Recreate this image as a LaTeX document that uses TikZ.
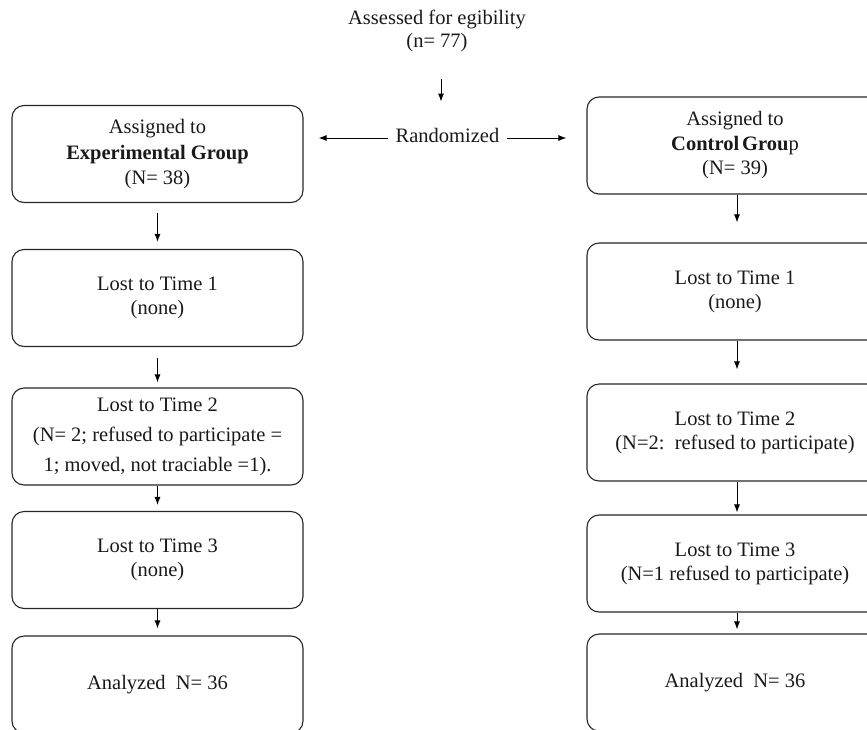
\documentclass[tikz,border=0pt]{standalone}
\usepackage{fontspec}
\setmainfont{Liberation Serif}
\usetikzlibrary{arrows.meta}
\begin{document}
\begin{tikzpicture}[x=1pt,y=-1pt,
    txt/.style={inner sep=0pt,align=center,text=black!90,font=\fontsize{20.5}{23}\selectfont},
    box/.style={txt,draw=black!85,line width=1.1pt,rounded corners=12pt,minimum height=97pt,
      font=\fontsize{20.5}{24}\selectfont},
    lbox/.style={box,minimum width=291pt},
    rbox/.style={box,minimum width=296pt},
    arr/.style={-{Latex[length=8pt,width=6pt]},line width=1pt,black}]
  \useasboundingbox (0,0) rectangle (867,729);
  \clip (0,0) rectangle (867,729);
  % top
  \node[txt] (assess) at (437,31) {Assessed for egibility\\(n= 77)};
  \node[txt] (rand) at (447.5,135) {Randomized};
  % left column
  \node[lbox] (l1) at (157.5,154) {Assigned to\\[2pt]\textbf{Experimental Group}\\[1pt](N= 38)};
  \node[lbox] (l2) at (157.5,298) {Lost to Time 1\\(none)};
  \node[lbox] (l3) at (157.5,436.5) {Lost to Time 2\\[6pt](N= 2; refused to participate =\\[6pt]1; moved, not traciable =1).};
  \node[lbox] (l4) at (157.5,560) {Lost to Time 3\\(none)};
  \node[lbox] (l5) at (157.5,684.5) {Analyzed\ \ N= 36};
  % right column
  \node[rbox] (r1) at (735,145.5) {Assigned to\\[1pt]\textbf{Control\hspace{3pt}Grou}p\\(N= 39)};
  \node[rbox] (r2) at (735,291.5) {Lost to Time 1\\(none)};
  \node[rbox] (r3) at (735,432.5) {Lost to Time 2\\(N=2:\ \ refused to participate)};
  \node[rbox] (r4) at (735,563.5) {Lost to Time 3\\(N=1 refused to participate)};
  \node[rbox] (r5) at (735,682.5) {Analyzed\ \ N= 36};
  % arrows
  \draw[arr,shorten <=27pt,shorten >=26pt] ([xshift=4pt]assess.south) -- ([xshift=4pt]assess.south |- rand.north);
  \draw[arr,shorten <=7pt,shorten >=15pt] ([yshift=-3pt]rand.west) -- ([yshift=-3pt]rand.west -| l1.east);
  \draw[arr,shorten <=7pt,shorten >=20pt] ([yshift=-3pt]rand.east) -- ([yshift=-3pt]rand.east -| r1.west);
  \draw[arr,shorten <=10pt,shorten >=7pt] (l1.south) -- (l2.north);
  \draw[arr,shorten <=11pt,shorten >=5pt] (l2.south) -- (l3.north);
  \draw[arr,shorten >=6pt] (l3.south) -- (l4.north);
  \draw[arr,shorten >=7pt] (l4.south) -- (l5.north);
  \draw[arr,shorten >=20pt] ([xshift=2pt]r1.south) -- ([xshift=2pt]r2.north);
  \draw[arr,shorten >=14pt] ([xshift=2pt]r2.south) -- ([xshift=2pt]r3.north);
  \draw[arr,shorten >=2pt] ([xshift=2pt]r3.south) -- ([xshift=2pt]r4.north);
  \draw[arr,shorten >=4pt] ([xshift=2pt]r4.south) -- ([xshift=2pt]r5.north);
\end{tikzpicture}
\end{document}
